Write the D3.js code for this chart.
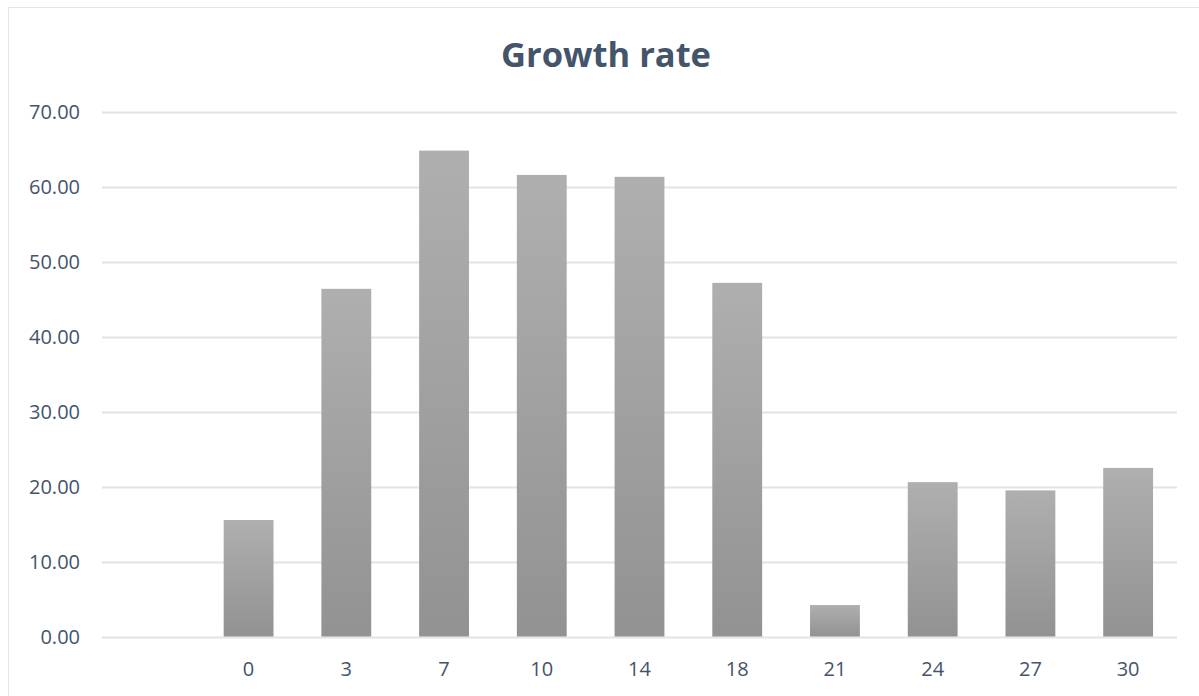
<!DOCTYPE html>
<html lang="en">
<head>
  <meta charset="utf-8">
  <title>Growth rate</title>
  <script src="https://cdn.jsdelivr.net/npm/d3@7"></script>
  <style>
    body { margin: 0; background: #fff; }
    text { font-family: "Open Sans", "Noto Sans", sans-serif; }
  </style>
</head>
<body>
  <div class="chart"></div>
  <script>
    var w = 1199,
      h = 696;

    // data
    var categories = ["", "0", "3", "7", "10", "14", "18", "21", "24", "27", "30"];
    var growth = [null, 15.55, 46.4, 64.85, 61.6, 61.35, 47.2, 4.2, 20.6, 19.5, 22.5];
    var yTicks = [0, 10, 20, 30, 40, 50, 60, 70];

    var margin = { top: 112, right: 22, bottom: 60, left: 102 };

    var svg = d3.select('.chart')
      .append('svg')
      .attr('width', w)
      .attr('height', h);

    // bar gradient
    var grad = svg.append('defs').append('linearGradient')
      .attr('id', 'barGrad')
      .attr('x1', 0).attr('y1', 0).attr('x2', 0).attr('y2', 1);
    grad.append('stop').attr('offset', '0%').attr('stop-color', '#afafaf');
    grad.append('stop').attr('offset', '100%').attr('stop-color', '#929292');

    // chart border
    svg.append('rect')
      .attr('x', 8.5).attr('y', 7.5)
      .attr('width', w + 10).attr('height', h + 10)
      .attr('fill', 'none')
      .attr('stroke', '#e1e4e8')
      .attr('stroke-width', 1);

    var x = d3.scaleBand()
      .domain(categories.map(function(d, i) { return i; }))
      .range([margin.left, w - margin.right])
      .paddingInner(0.49)
      .paddingOuter(0.245);

    var y = d3.scaleLinear()
      .domain([0, 70])
      .range([636.5, margin.top]);

    // gridlines
    svg.append('g')
      .selectAll('line')
      .data(yTicks)
      .enter()
      .append('line')
      .attr('x1', margin.left)
      .attr('x2', w - margin.right)
      .attr('y1', function(d) { return Math.round(y(d)) + 0.5; })
      .attr('y2', function(d) { return Math.round(y(d)) + 0.5; })
      .attr('stroke', '#dfe3ea')
      .attr('stroke-width', 2);

    // y labels
    svg.append('g')
      .selectAll('text')
      .data(yTicks)
      .enter()
      .append('text')
      .attr('x', 80)
      .attr('y', function(d) { return y(d); })
      .attr('dy', '0.36em')
      .attr('text-anchor', 'end')
      .attr('fill', '#44546a')
      .style('font-size', '20px')
      .text(function(d) { return d3.format('.2f')(d); });

    // bars
    svg.append('g')
      .selectAll('rect')
      .data(growth.map(function(v, i) { return { i: i, v: v }; }).filter(function(d) { return d.v != null; }))
      .enter()
      .append('rect')
      .attr('x', function(d) { return x(d.i); })
      .attr('width', x.bandwidth())
      .attr('y', function(d) { return y(d.v); })
      .attr('height', function(d) { return y(0) - y(d.v); })
      .attr('fill', 'url(#barGrad)');

    // x labels
    svg.append('g')
      .selectAll('text')
      .data(categories)
      .enter()
      .append('text')
      .attr('x', function(d, i) { return x(i) + x.bandwidth() / 2; })
      .attr('y', 676)
      .attr('text-anchor', 'middle')
      .attr('fill', '#44546a')
      .style('font-size', '20px')
      .text(function(d) { return d; });

    // title
    svg.append('text')
      .attr('x', 606)
      .attr('y', 67)
      .attr('text-anchor', 'middle')
      .attr('fill', '#44546a')
      .style('font-size', '34.5px')
      .style('font-weight', 'bold')
      .text('Growth rate');
  </script>
</body>
</html>
